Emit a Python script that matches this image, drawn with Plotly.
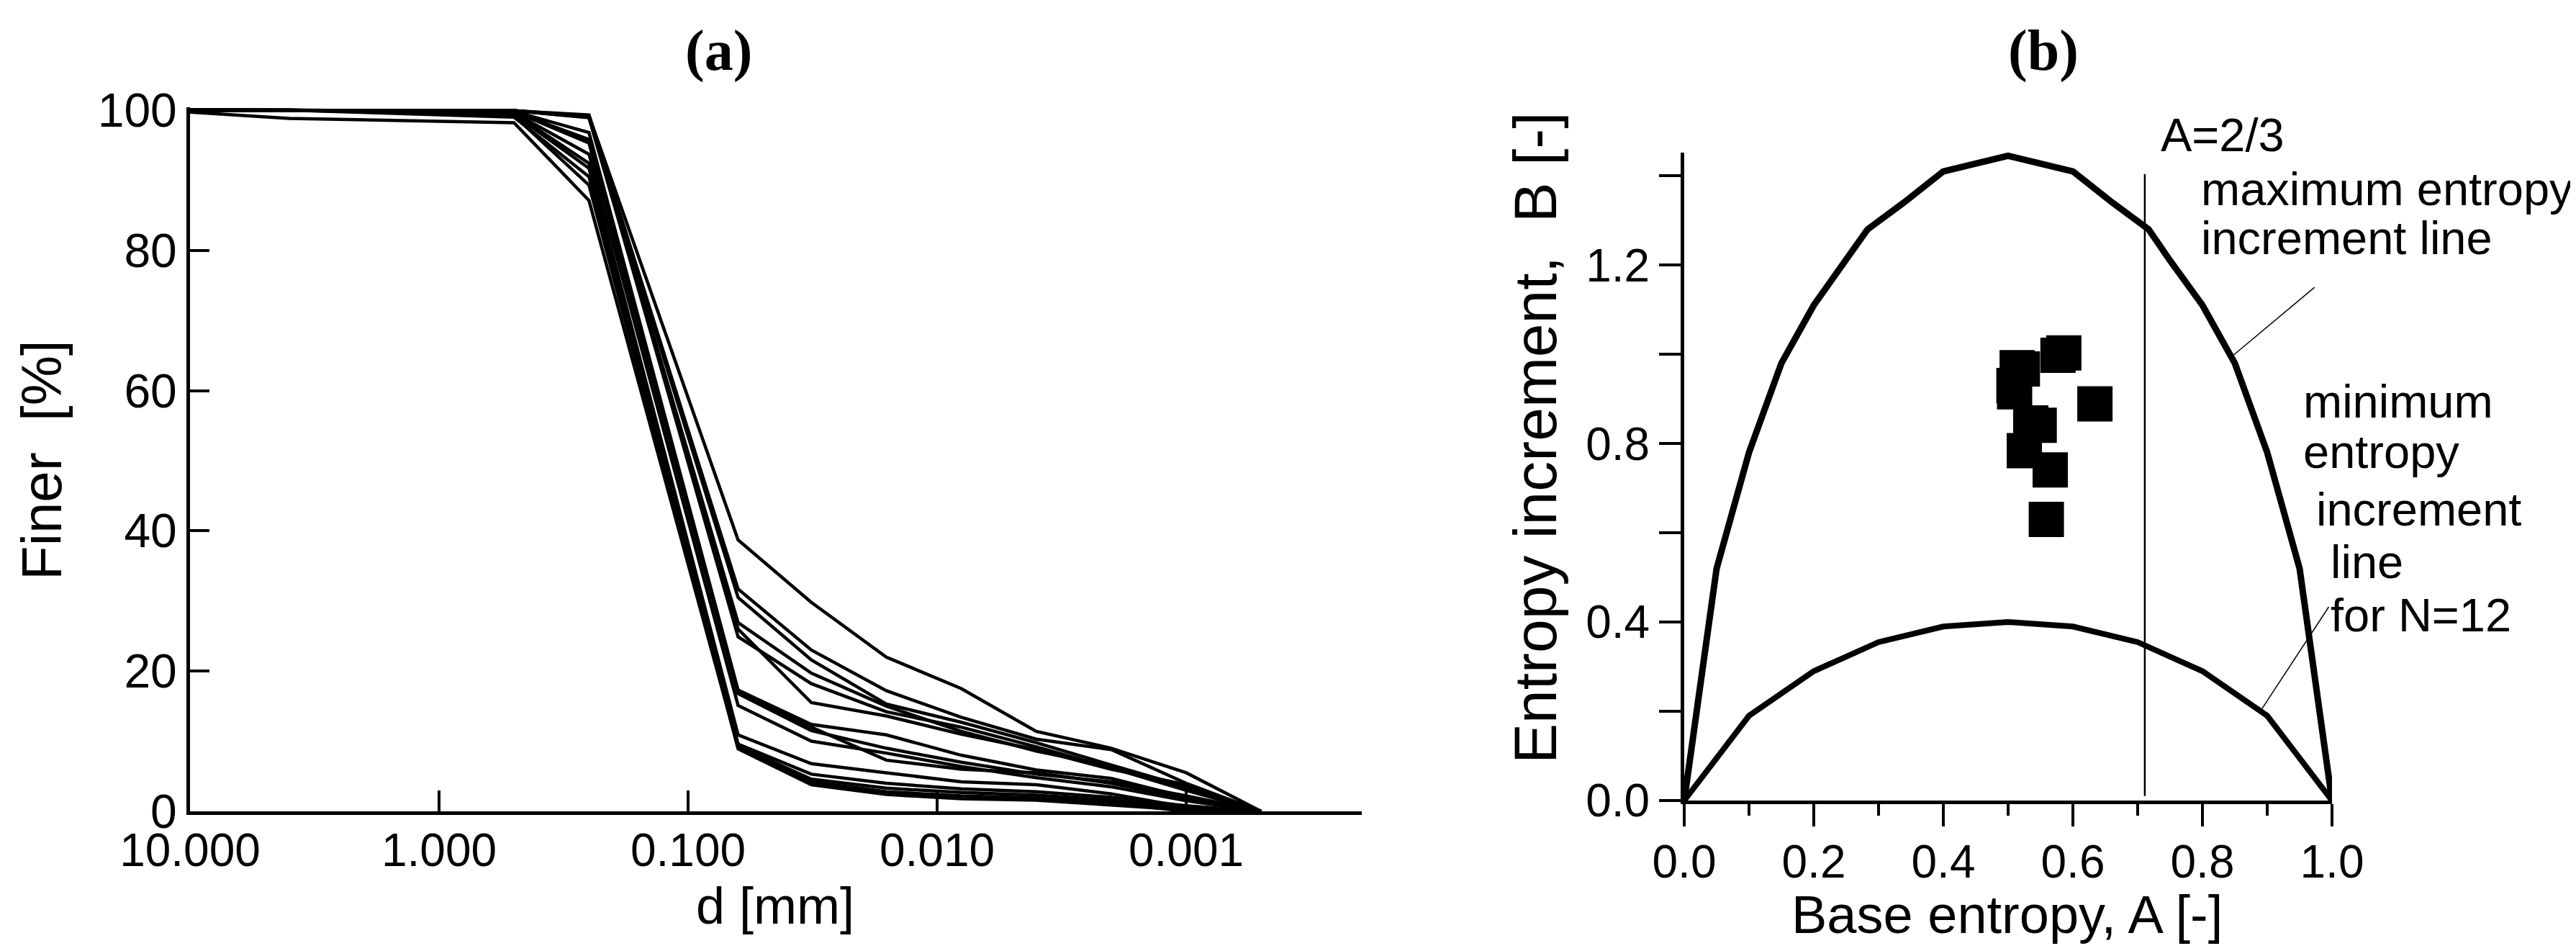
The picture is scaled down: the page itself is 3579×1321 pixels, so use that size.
import plotly.graph_objects as go

# (a) grain size distribution curves, d in mm, % finer
sizes_mm = [10, 4, 0.5, 0.25, 0.063, 0.032, 0.016, 0.008, 0.004, 0.002, 0.001, 0.0005]
finer_pct = [
    [100, 100, 99.9, 99.2, 38.7, 29.8, 22.0, 17.5, 11.4, 9.0, 5.5, 0],
    [100, 100, 99.9, 99.3, 31.7, 23.0, 17.2, 13.4, 10.3, 8.8, 4.0, 0],
    [100, 100, 99.9, 99.0, 30.5, 21.6, 15.3, 12.7, 9.8, 6.6, 3.5, 0],
    [100, 100, 99.9, 99.1, 26.9, 19.7, 15.0, 11.4, 8.6, 6.4, 3.3, 0],
    [100, 100, 99.9, 98.9, 26.0, 15.5, 13.6, 11.0, 8.8, 6.0, 3.8, 0],
    [100, 100, 99.9, 99.0, 24.9, 18.2, 14.2, 12.0, 9.2, 6.2, 3.0, 0],
    [100, 100, 99.8, 96.8, 17.3, 12.4, 10.9, 8.0, 5.9, 4.7, 2.0, 0],
    [100, 100, 99.7, 95.8, 17.0, 12.0, 7.3, 6.0, 5.5, 4.0, 1.8, 0],
    [100, 100, 99.8, 95.3, 16.8, 11.5, 9.0, 7.0, 5.3, 4.2, 2.2, 0],
    [100, 100, 99.6, 93.7, 15.1, 10.0, 8.3, 6.4, 4.8, 3.5, 1.5, 0],
    [100, 100, 99.5, 92.4, 10.9, 6.8, 5.5, 4.2, 3.8, 2.5, 0.6, 0],
    [100, 100, 99.4, 91.7, 9.6, 5.3, 4.0, 3.2, 2.8, 2.0, 0.8, 0],
    [100, 100, 99.2, 89.3, 9.3, 4.6, 3.3, 2.7, 2.3, 1.6, 0.4, 0],
    [99.7, 98.8, 98.2, 87.1, 9.1, 4.2, 2.8, 2.2, 1.9, 1.2, 0.0, 0],
    [100, 100, 99.0, 90.5, 8.9, 3.8, 2.4, 1.8, 1.6, 0.9, 0.2, 0],
]
d_tickvals = [10, 1, 0.1, 0.01, 0.001]
d_ticktext = ["10.000", "1.000", "0.100", "0.010", "0.001"]

# (b) entropy diagram
max_A = [0, 0.05, 0.1, 0.15, 0.2, 0.25, 0.283, 0.339, 0.4, 0.5, 0.6, 0.661, 0.717, 0.75, 0.8, 0.85, 0.9, 0.95, 1.0]
max_B = [0, 0.52, 0.78, 0.98, 1.11, 1.21, 1.28, 1.34, 1.41, 1.445, 1.41, 1.34, 1.28, 1.21, 1.11, 0.98, 0.78, 0.52, 0]
min_A = [0, 0.1, 0.2, 0.3, 0.4, 0.5, 0.6, 0.7, 0.8, 0.9, 1.0]
min_B = [0, 0.19, 0.29, 0.355, 0.39, 0.40, 0.39, 0.355, 0.29, 0.19, 0]
sample_A = [0.577, 0.586, 0.514, 0.509, 0.510, 0.522, 0.634, 0.535, 0.548, 0.525, 0.565, 0.559]
sample_B = [0.998, 1.003, 0.970, 0.930, 0.916, 0.967, 0.889, 0.846, 0.841, 0.784, 0.741, 0.630]
vline_A = [0.711, 0.711]
vline_B = [0.01, 1.404]
max_leader_A = [0.847, 0.973]
max_leader_B = [0.997, 1.150]
min_leader_A = [0.888, 0.995]
min_leader_B = [0.197, 0.434]
B_TOP = 1.452

FONT = "Liberation Sans, Arial, sans-serif"
SERIF = "Liberation Serif, Times New Roman, serif"
W, H = 3579, 1321

fig = go.Figure()

for row in finer_pct:
    fig.add_trace(go.Scatter(x=sizes_mm, y=row, mode="lines", xaxis="x", yaxis="y",
                             line=dict(color="black", width=4.5), showlegend=False))

fig.add_trace(go.Scatter(x=max_A, y=max_B, mode="lines", xaxis="x2", yaxis="y2",
                         line=dict(color="black", width=9), showlegend=False))
fig.add_trace(go.Scatter(x=min_A, y=min_B, mode="lines", xaxis="x2", yaxis="y2",
                         line=dict(color="black", width=8), showlegend=False))
fig.add_trace(go.Scatter(x=vline_A, y=vline_B, mode="lines", xaxis="x2", yaxis="y2",
                         line=dict(color="black", width=2.5), showlegend=False))
for la, lb in [(max_leader_A, max_leader_B), (min_leader_A, min_leader_B)]:
    fig.add_trace(go.Scatter(x=la, y=lb, mode="lines", xaxis="x2", yaxis="y2",
                             line=dict(color="black", width=1.5), showlegend=False))
fig.add_trace(go.Scatter(x=sample_A, y=sample_B, mode="markers", xaxis="x2", yaxis="y2",
                         marker=dict(symbol="square", size=49, color="black"), showlegend=False))

axis_common = dict(showline=True, linecolor="black", showgrid=False, zeroline=False,
                   tickcolor="black", tickwidth=4, linewidth=5, automargin=False)

fig.update_layout(
    width=W, height=H,
    margin=dict(l=0, r=0, t=0, b=0),
    plot_bgcolor="white", paper_bgcolor="white",
    font=dict(family=FONT, color="black"),
    xaxis=dict(type="log", range=[1, -3.705], domain=[256 / W, 1884 / W],
               tickvals=d_tickvals, ticktext=d_ticktext, ticks="inside", ticklen=29,
               ticklabelstandoff=-6,
               tickfont=dict(size=64), anchor="y", **axis_common),
    yaxis=dict(range=[0, 100.4], domain=[(H - 1119) / H, (H - 141) / H],
               tickvals=[0, 20, 40, 60, 80, 100], ticks="inside", ticklen=27,
               tickfont=dict(size=66), anchor="x", **axis_common),
    xaxis2=dict(range=[0, 1], domain=[2332 / W, 3232 / W],
                tickvals=[0, 0.2, 0.4, 0.6, 0.8, 1.0],
                ticktext=["0.0", "0.2", "0.4", "0.6", "0.8", "1.0"],
                ticks="outside", ticklen=31, ticklabelstandoff=-6,
                minor=dict(dtick=0.1, ticks="outside", ticklen=16, tickwidth=4, tickcolor="black"),
                tickfont=dict(size=64), anchor="y2", **axis_common),
    yaxis2=dict(range=[0, B_TOP], domain=[(H - 1104) / H, (H - 204) / H],
                tickvals=[0, 0.2, 0.4, 0.6, 0.8, 1.0, 1.2, 1.4],
                ticktext=["0.0", "", "0.4", "", "0.8", "", "1.2", ""],
                ticks="outside", ticklen=30,
                tickfont=dict(size=64), anchor="x2", **axis_common),
)

titles = [
    ("<b>(a)</b>", 990, 62, 0, 80, SERIF),
    ("<b>(b)</b>", 2831, 62, 0, 80, SERIF),
    ("d [mm]", 1069, 1250, 0, 72, FONT),
    ("Finer  [%]", 50, 631, -90, 78, FONT),
    ("Base entropy, A [-]", 2780, 1262, 0, 74, FONT),
    ("Entropy increment,  B [-]", 2125, 600, -90, 84, FONT),
]
for text, px, py, ang, size, fam in titles:
    fig.add_annotation(text=text, xref="paper", yref="paper", x=px / W, y=(H - py) / H,
                       xanchor="center", yanchor="middle", textangle=ang, showarrow=False,
                       font=dict(size=size, family=fam, color="black"))

labels_b = [
    ("A=2/3", 0.733, 1.492),
    ("maximum entropy", 0.796, 1.371),
    ("increment line", 0.796, 1.261),
    ("minimum", 0.953, 0.895),
    ("entropy", 0.953, 0.781),
    ("increment", 0.973, 0.652),
    ("line", 0.996, 0.535),
    ("for N=12", 0.996, 0.415),
]
for text, a, b in labels_b:
    fig.add_annotation(text=text, xref="x2 domain", yref="y2 domain", x=a, y=b / B_TOP,
                       xanchor="left", yanchor="middle", showarrow=False,
                       font=dict(size=65))

fig.write_html("out.html")
